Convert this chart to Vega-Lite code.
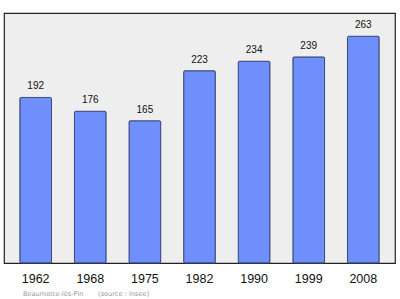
{
  "$schema": "https://vega.github.io/schema/vega-lite/v6.json",
  "width": 391,
  "height": 250,
  "autosize": "none",
  "padding": {"left": 4, "top": 13, "right": 5, "bottom": 36},
  "background": "#ffffff",
  "data": {
    "values": [
      {"year": "1962", "population": 192},
      {"year": "1968", "population": 176},
      {"year": "1975", "population": 165},
      {"year": "1982", "population": 223},
      {"year": "1990", "population": 234},
      {"year": "1999", "population": 239},
      {"year": "2008", "population": 263}
    ]
  },
  "title": {
    "text": "Beaumotte-lès-Pin\u00a0\u00a0\u00a0\u00a0\u00a0\u00a0\u00a0(source\u00a0:\u00a0Insee)",
    "orient": "bottom",
    "anchor": "start",
    "offset": 6,
    "dx": 19,
    "font": "DejaVu Sans",
    "fontSize": 6.6,
    "fontWeight": "normal",
    "color": "#999999"
  },
  "config": {
    "view": {"fill": "#eeeeee", "stroke": "#222222", "strokeWidth": 1.2},
    "font": "Liberation Sans"
  },
  "encoding": {
    "x": {
      "field": "year",
      "type": "ordinal",
      "sort": null,
      "scale": {"paddingInner": 0.42, "paddingOuter": 0.29},
      "axis": {
        "title": null,
        "domain": false,
        "ticks": false,
        "labelAngle": 0,
        "labelFontSize": 12.5,
        "labelColor": "#111111",
        "labelPadding": 9,
        "labelFont": "Liberation Sans"
      }
    },
    "y": {
      "field": "population",
      "type": "quantitative",
      "scale": {"domain": [0, 290], "nice": false},
      "axis": null
    }
  },
  "layer": [
    {
      "mark": {"type": "bar", "fill": "#6f8ffc", "stroke": "#3b4a7e", "strokeWidth": 1, "cornerRadius": 1}
    },
    {
      "mark": {"type": "text", "dy": -6, "baseline": "bottom", "fontSize": 10, "color": "#111111", "font": "Liberation Sans"},
      "encoding": {"text": {"field": "population", "type": "quantitative"}}
    }
  ]
}
